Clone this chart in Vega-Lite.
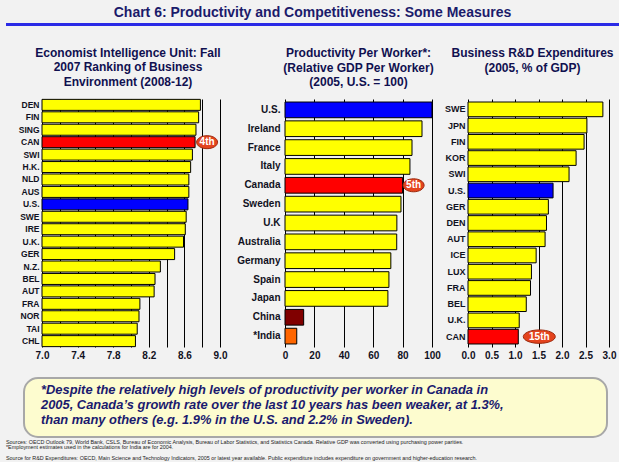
{
  "$schema": "https://vega.github.io/schema/vega-lite/v6.json",
  "background": "#f2f2f2",
  "padding": {"left": 6, "top": 6, "right": 0, "bottom": 0},
  "title": {
    "text": "Chart 6: Productivity and Competitiveness: Some Measures",
    "font": "Liberation Sans",
    "fontSize": 14,
    "fontWeight": "bold",
    "color": "#1b1b6b",
    "anchor": "middle",
    "offset": 3,
    "lineHeight": 17
  },
  "spacing": 20,
  "vconcat": [
    {
      "width": 613,
      "height": 3,
      "data": {"values": [{"a": 0, "b": 1}]},
      "mark": {"type": "rect", "color": "#2a2ae6", "opacity": 1},
      "encoding": {
        "x": {"field": "a", "type": "quantitative", "scale": {"domain": [0, 1]}, "axis": null},
        "x2": {"field": "b"},
        "y": {"field": "a", "type": "quantitative", "scale": {"domain": [0, 1]}, "axis": null},
        "y2": {"field": "b"}
      }
    },
    {
      "spacing": 17,
      "vconcat": [
        {
          "spacing": 3,
          "resolve": {"scale": {"color": "independent"}},
          "hconcat": [
            {
              "width": 9,
              "height": 248,
              "data": {"values": []},
              "mark": {"type": "point", "opacity": 0}
            },
            {
              "width": 178,
              "height": 248,
              "title": {"text": ["Economist Intelligence Unit: Fall", "2007 Ranking of Business", "Environment (2008-12)"], "frame": "group", "dx": -3},
              "data": {"values": [
                {"country": "DEN", "score": 8.78, "grp": "Other"},
                {"country": "FIN", "score": 8.76, "grp": "Other"},
                {"country": "SING", "score": 8.73, "grp": "Other"},
                {"country": "CAN", "score": 8.72, "grp": "Canada"},
                {"country": "SWI", "score": 8.69, "grp": "Other"},
                {"country": "H.K.", "score": 8.67, "grp": "Other"},
                {"country": "NLD", "score": 8.65, "grp": "Other"},
                {"country": "AUS", "score": 8.65, "grp": "Other"},
                {"country": "U.S.", "score": 8.64, "grp": "US"},
                {"country": "SWE", "score": 8.62, "grp": "Other"},
                {"country": "IRE", "score": 8.61, "grp": "Other"},
                {"country": "U.K.", "score": 8.59, "grp": "Other"},
                {"country": "GER", "score": 8.49, "grp": "Other"},
                {"country": "N.Z.", "score": 8.33, "grp": "Other"},
                {"country": "BEL", "score": 8.27, "grp": "Other"},
                {"country": "AUT", "score": 8.26, "grp": "Other"},
                {"country": "FRA", "score": 8.10, "grp": "Other"},
                {"country": "NOR", "score": 8.09, "grp": "Other"},
                {"country": "TAI", "score": 8.07, "grp": "Other"},
                {"country": "CHL", "score": 8.05, "grp": "Other"}
              ]},
              "encoding": {
                "y": {"field": "country", "type": "nominal", "sort": null,
                      "scale": {"paddingInner": 0.116, "paddingOuter": 0.03},
                      "axis": {"title": null, "labelFontSize": 8.5, "labelPadding": 3, "minExtent": 24, "maxExtent": 24}},
                "x": {"field": "score", "type": "quantitative",
                      "scale": {"domain": [7, 9], "zero": false, "nice": false},
                      "axis": {"title": null, "values": [7, 7.2, 7.4, 7.6, 7.8, 8, 8.2, 8.4, 8.6, 8.8, 9],
                               "labelExpr": "round(datum.value*10) % 4 == 2 ? format(datum.value, '.1f') : ''"}}
              },
              "layer": [
                {"mark": {"type": "bar", "stroke": "#000000", "strokeWidth": 1},
                 "encoding": {
                   "x2": {"datum": 7},
                   "color": {"field": "grp", "type": "nominal", "legend": null,
                     "scale": {"domain": ["Canada", "US", "Other"], "range": ["#ff0000", "#0000ff", "#ffff00"]}}}},
                {"transform": [{"filter": "datum.grp == 'Canada'"}],
                 "mark": {"type": "point", "shape": "M-1,0C-1,-0.342,-0.552,-0.62,0,-0.62C0.552,-0.62,1,-0.342,1,0C1,0.342,0.552,0.62,0,0.62C-0.552,0.62,-1,0.342,-1,0Z",
                          "size": 441, "filled": true, "fill": "#e4431d", "stroke": "#9c2a0e", "strokeWidth": 1, "opacity": 1, "xOffset": 12}},
                {"transform": [{"filter": "datum.grp == 'Canada'"}],
                 "mark": {"type": "text", "text": "4th", "color": "#ffffff", "fontWeight": "bold", "fontSize": 10, "xOffset": 12}}
              ]
            },
            {
              "width": 147,
              "height": 248,
              "title": {"text": ["Productivity Per Worker*:", "(Relative GDP Per Worker)", "(2005, U.S. = 100)"]},
              "data": {"values": [
                {"country": "U.S.", "value": 100, "grp": "US"},
                {"country": "Ireland", "value": 93.2, "grp": "Other"},
                {"country": "France", "value": 86.4, "grp": "Other"},
                {"country": "Italy", "value": 85.0, "grp": "Other"},
                {"country": "Canada", "value": 80.0, "grp": "Canada"},
                {"country": "Sweden", "value": 78.9, "grp": "Other"},
                {"country": "U.K", "value": 76.1, "grp": "Other"},
                {"country": "Australia", "value": 76.0, "grp": "Other"},
                {"country": "Germany", "value": 72.0, "grp": "Other"},
                {"country": "Spain", "value": 70.7, "grp": "Other"},
                {"country": "Japan", "value": 70.0, "grp": "Other"},
                {"country": "China", "value": 12.7, "grp": "China"},
                {"country": "*India", "value": 8.0, "grp": "India"}
              ]},
              "encoding": {
                "y": {"field": "country", "type": "nominal", "sort": null,
                      "scale": {"paddingInner": 0.167, "paddingOuter": 0.16},
                      "axis": {"title": null, "labelFontSize": 10, "labelPadding": 5, "minExtent": 55, "maxExtent": 55}},
                "x": {"field": "value", "type": "quantitative",
                      "scale": {"domain": [0, 100], "nice": false},
                      "axis": {"title": null, "values": [0, 20, 40, 60, 80, 100]}}
              },
              "layer": [
                {"mark": {"type": "bar", "stroke": "#000000", "strokeWidth": 1},
                 "encoding": {"color": {"field": "grp", "type": "nominal", "legend": null,
                   "scale": {"domain": ["Canada", "US", "China", "India", "Other"], "range": ["#ff0000", "#0000ff", "#800000", "#ff6600", "#ffff00"]}}}},
                {"transform": [{"filter": "datum.grp == 'Canada'"}],
                 "mark": {"type": "point", "shape": "M-1,0C-1,-0.342,-0.552,-0.62,0,-0.62C0.552,-0.62,1,-0.342,1,0C1,0.342,0.552,0.62,0,0.62C-0.552,0.62,-1,0.342,-1,0Z",
                          "size": 441, "filled": true, "fill": "#e4431d", "stroke": "#9c2a0e", "strokeWidth": 1, "opacity": 1, "xOffset": 11}},
                {"transform": [{"filter": "datum.grp == 'Canada'"}],
                 "mark": {"type": "text", "text": "5th", "color": "#ffffff", "fontWeight": "bold", "fontSize": 10, "xOffset": 11}}
              ]
            },
            {
              "width": 141,
              "height": 248,
              "title": {"text": ["Business R&D Expenditures", "(2005, % of GDP)", ""], "dx": -6},
              "data": {"values": [
                {"country": "SWE", "value": 2.87, "grp": "Other"},
                {"country": "JPN", "value": 2.53, "grp": "Other"},
                {"country": "FIN", "value": 2.47, "grp": "Other"},
                {"country": "KOR", "value": 2.30, "grp": "Other"},
                {"country": "SWI", "value": 2.15, "grp": "Other"},
                {"country": "U.S.", "value": 1.81, "grp": "US"},
                {"country": "GER", "value": 1.71, "grp": "Other"},
                {"country": "DEN", "value": 1.67, "grp": "Other"},
                {"country": "AUT", "value": 1.64, "grp": "Other"},
                {"country": "ICE", "value": 1.45, "grp": "Other"},
                {"country": "LUX", "value": 1.35, "grp": "Other"},
                {"country": "FRA", "value": 1.33, "grp": "Other"},
                {"country": "BEL", "value": 1.24, "grp": "Other"},
                {"country": "U.K.", "value": 1.09, "grp": "Other"},
                {"country": "CAN", "value": 1.07, "grp": "Canada"}
              ]},
              "encoding": {
                "y": {"field": "country", "type": "nominal", "sort": null,
                      "scale": {"paddingInner": 0.095, "paddingOuter": 0.185},
                      "axis": {"title": null, "labelFontSize": 9, "labelPadding": 3, "minExtent": 24, "maxExtent": 24}},
                "x": {"field": "value", "type": "quantitative",
                      "scale": {"domain": [0, 3], "nice": false},
                      "axis": {"title": null, "values": [0, 0.5, 1, 1.5, 2, 2.5, 3], "format": ".1f"}}
              },
              "layer": [
                {"mark": {"type": "bar", "stroke": "#000000", "strokeWidth": 1},
                 "encoding": {"color": {"field": "grp", "type": "nominal", "legend": null,
                   "scale": {"domain": ["Canada", "US", "Other"], "range": ["#ff0000", "#0000ff", "#ffff00"]}}}},
                {"transform": [{"filter": "datum.grp == 'Canada'"}],
                 "mark": {"type": "point", "shape": "M-1,0C-1,-0.232,-0.552,-0.42,0,-0.42C0.552,-0.42,1,-0.232,1,0C1,0.232,0.552,0.42,0,0.42C-0.552,0.42,-1,0.232,-1,0Z",
                          "size": 1024, "filled": true, "fill": "#e4431d", "stroke": "#9c2a0e", "strokeWidth": 1, "opacity": 1, "xOffset": 21}},
                {"transform": [{"filter": "datum.grp == 'Canada'"}],
                 "mark": {"type": "text", "text": "15th", "color": "#ffffff", "fontWeight": "bold", "fontSize": 10, "xOffset": 21}}
              ]
            }
          ]
        },
        {
          "spacing": 1,
          "vconcat": [
            {
              "spacing": 3,
              "hconcat": [
                {
                  "width": 14,
                  "height": 59,
                  "data": {"values": []},
                  "mark": {"type": "point", "opacity": 0}
                },
                {
                  "width": 583,
                  "height": 59,
                  "view": {"fill": "#fdfccf", "stroke": "#a8a8a8", "strokeWidth": 2, "cornerRadius": 14},
                  "data": {"values": [
                    {"line": 1, "text": "*Despite the relatively high levels of productivity per worker in Canada in"},
                    {"line": 2, "text": "2005, Canada’s growth rate over the last 10 years has been weaker, at 1.3%,"},
                    {"line": 3, "text": "than many others (e.g. 1.9% in the U.S. and 2.2% in Sweden)."}
                  ]},
                  "mark": {"type": "text", "align": "left", "baseline": "middle", "font": "Liberation Sans", "fontSize": 12.9,
                           "fontWeight": "bold", "fontStyle": "italic", "color": "#1a1a6e", "dx": 17},
                  "encoding": {
                    "x": {"datum": 0, "type": "quantitative", "scale": {"domain": [0, 1]}, "axis": null},
                    "y": {"field": "line", "type": "quantitative", "scale": {"domain": [0.167, 4.1], "reverse": true, "zero": false, "nice": false}, "axis": null},
                    "text": {"field": "text"}
                  }
                }
              ]
            },
            {
              "width": 583,
              "height": 22,
              "data": {"values": [
                {"line": 1, "text": "Sources:  OECD Outlook 79, World Bank, CSLS, Bureau of Economic Analysis, Bureau of Labor Statistics, and Statistics Canada. Relative GDP was converted using purchasing power parities."},
                {"line": 2, "text": "*Employment estimates used in the calculations for India are for 2004."},
                {"line": 4, "text": "Source for R&D Expenditures: OECD, Main Science and Technology Indicators, 2005 or latest year available. Public expenditure includes expenditure on government and higher-education research."}
              ]},
              "mark": {"type": "text", "align": "left", "baseline": "middle", "font": "Liberation Sans", "fontSize": 5.4, "color": "#222222"},
              "encoding": {
                "x": {"datum": 0, "type": "quantitative", "scale": {"domain": [0, 1]}, "axis": null},
                "y": {"field": "line", "type": "ordinal", "scale": {"domain": [1, 2, 3, 4]}, "axis": null},
                "text": {"field": "text"}
              }
            }
          ]
        }
      ]
    }
  ],
  "config": {
    "view": {"stroke": null},
    "font": "Liberation Sans",
    "axis": {"labelFont": "Liberation Sans", "labelFontWeight": "bold", "labelColor": "#111122", "domain": false, "ticks": false, "grid": false, "labelOverlap": false},
    "axisX": {"grid": true, "gridColor": "#000000", "gridOpacity": 1, "gridWidth": 1, "labelFontSize": 10, "labelPadding": 3, "labelFlush": false},
    "title": {"fontSize": 12, "fontWeight": "bold", "color": "#101050", "lineHeight": 14.5, "offset": 10, "font": "Liberation Sans"}
  }
}
